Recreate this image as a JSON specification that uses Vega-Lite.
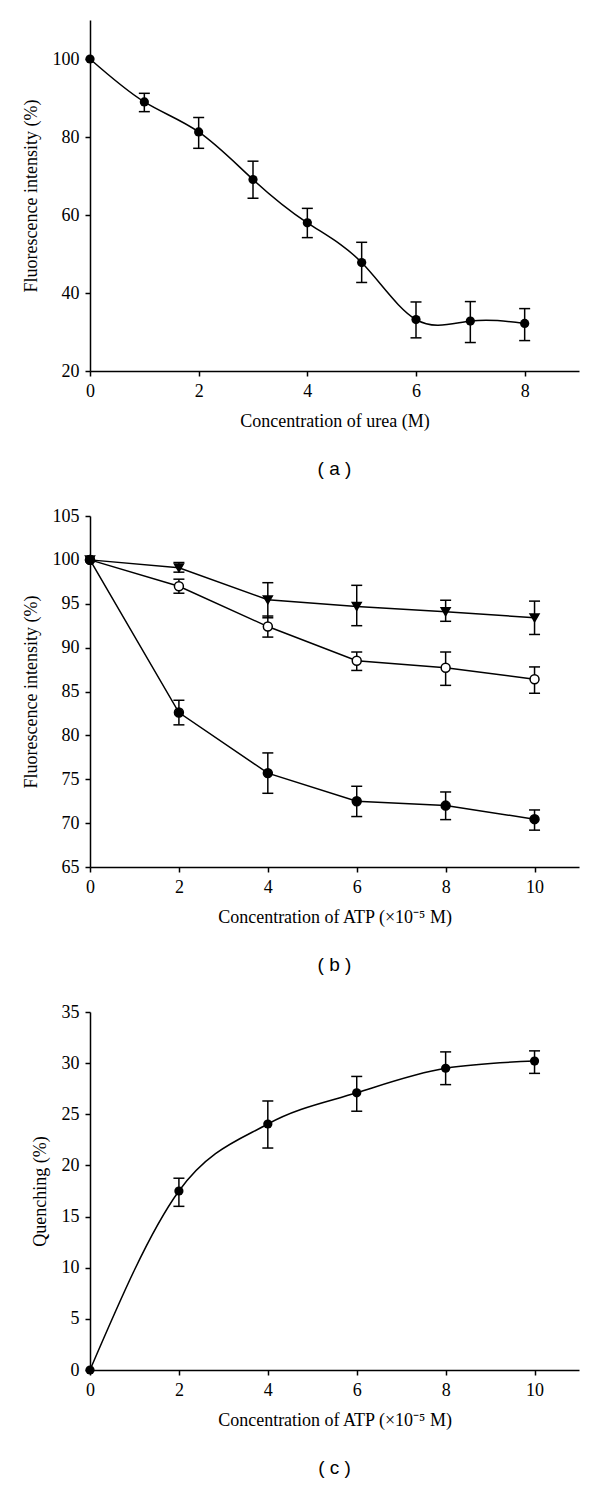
{
  "$schema": "https://vega.github.io/schema/vega-lite/v6.json",
  "background": "white",
  "padding": {"left": 22, "top": 20, "right": 18, "bottom": 10},
  "bounds": "flush",
  "spacing": 145,
  "datasets": {
    "a": [
      {"x": 0, "y": 100, "lo": null, "hi": null},
      {"x": 1, "y": 89.0, "lo": 86.5, "hi": 91.2},
      {"x": 2, "y": 81.3, "lo": 77.1, "hi": 85.0},
      {"x": 3, "y": 69.1, "lo": 64.3, "hi": 73.8},
      {"x": 4, "y": 58.0, "lo": 54.2, "hi": 61.7},
      {"x": 5, "y": 47.8, "lo": 42.7, "hi": 53.0},
      {"x": 6, "y": 33.2, "lo": 28.5, "hi": 37.7},
      {"x": 7, "y": 32.8, "lo": 27.3, "hi": 37.8},
      {"x": 8, "y": 32.2, "lo": 27.8, "hi": 36.0}
    ],
    "b": [
      {"s": "tri", "x": 0, "y": 100, "lo": null, "hi": null},
      {"s": "tri", "x": 2, "y": 99.1, "lo": 98.6, "hi": 99.7},
      {"s": "tri", "x": 4, "y": 95.45, "lo": 93.4, "hi": 97.4},
      {"s": "tri", "x": 6, "y": 94.7, "lo": 92.5, "hi": 97.1},
      {"s": "tri", "x": 8, "y": 94.1, "lo": 93.0, "hi": 95.4},
      {"s": "tri", "x": 10, "y": 93.4, "lo": 91.5, "hi": 95.3},
      {"s": "open", "x": 0, "y": 100, "lo": null, "hi": null},
      {"s": "open", "x": 2, "y": 97.0, "lo": 96.2, "hi": 97.8},
      {"s": "open", "x": 4, "y": 92.4, "lo": 91.2, "hi": 93.6},
      {"s": "open", "x": 6, "y": 88.5, "lo": 87.4, "hi": 89.5},
      {"s": "open", "x": 8, "y": 87.7, "lo": 85.7, "hi": 89.5},
      {"s": "open", "x": 10, "y": 86.4, "lo": 84.8, "hi": 87.8},
      {"s": "filled", "x": 0, "y": 100, "lo": null, "hi": null},
      {"s": "filled", "x": 2, "y": 82.6, "lo": 81.2, "hi": 84.0},
      {"s": "filled", "x": 4, "y": 75.7, "lo": 73.4, "hi": 78.0},
      {"s": "filled", "x": 6, "y": 72.5, "lo": 70.75, "hi": 74.2},
      {"s": "filled", "x": 8, "y": 72.0, "lo": 70.4, "hi": 73.55},
      {"s": "filled", "x": 10, "y": 70.45, "lo": 69.2, "hi": 71.5}
    ],
    "c": [
      {"x": 0, "y": 0, "lo": null, "hi": null},
      {"x": 2, "y": 17.5, "lo": 16.0, "hi": 18.75},
      {"x": 4, "y": 24.05, "lo": 21.7, "hi": 26.3},
      {"x": 6, "y": 27.1, "lo": 25.3, "hi": 28.7},
      {"x": 8, "y": 29.5, "lo": 27.9, "hi": 31.1},
      {"x": 10, "y": 30.2, "lo": 29.0, "hi": 31.2}
    ]
  },
  "config": {
    "view": {"stroke": null},
    "axis": {
      "domainColor": "black", "domainWidth": 1.5,
      "tickColor": "black", "tickWidth": 1.5, "tickSize": 5,
      "labelFont": "Liberation Serif", "labelFontSize": 18, "labelColor": "black",
      "titleFont": "Liberation Serif", "titleFontSize": 18, "titleFontWeight": "normal", "titleColor": "black",
      "grid": false, "labelPadding": 6, "titlePadding": 12, "labelFlush": false, "labelOverlap": false
    },
    "axisX": {"titlePadding": 12},
    "title": {"font": "Liberation Sans", "fontSize": 19, "fontWeight": "normal", "color": "black", "orient": "bottom", "anchor": "middle", "offset": 30}
  },
  "vconcat": [
    {
      "width": 489, "height": 351,
      "title": {"text": "( a )"},
      "data": {"name": "a"},
      "encoding": {
        "x": {"field": "x", "type": "quantitative", "scale": {"domain": [0, 9], "nice": false}, "axis": {"values": [0, 2, 4, 6, 8]}, "title": "Concentration of urea (M)"}
      },
      "layer": [
        {"mark": {"type": "line", "interpolate": "natural", "color": "black", "strokeWidth": 1.5},
         "encoding": {"y": {"field": "y", "type": "quantitative", "scale": {"domain": [20, 110], "nice": false}, "axis": {"values": [20, 40, 60, 80, 100]}, "title": "Fluorescence intensity (%)"}}},
        {"mark": {"type": "rule", "color": "black", "strokeWidth": 1.5},
         "encoding": {"y": {"field": "lo", "type": "quantitative", "title": "Fluorescence intensity (%)"}, "y2": {"field": "hi"}}},
        {"mark": {"type": "tick", "orient": "horizontal", "size": 11, "thickness": 1.5, "color": "black", "opacity": 1},
         "encoding": {"y": {"field": "lo", "type": "quantitative", "title": "Fluorescence intensity (%)"}}},
        {"mark": {"type": "tick", "orient": "horizontal", "size": 11, "thickness": 1.5, "color": "black", "opacity": 1},
         "encoding": {"y": {"field": "hi", "type": "quantitative", "title": "Fluorescence intensity (%)"}}},
        {"mark": {"type": "point", "filled": true, "shape": "circle", "size": 85, "color": "black", "opacity": 1},
         "encoding": {"y": {"field": "y", "type": "quantitative", "title": "Fluorescence intensity (%)"}}}
      ]
    },
    {
      "width": 489, "height": 351,
      "title": {"text": "( b )"},
      "data": {"name": "b"},
      "encoding": {
        "x": {"field": "x", "type": "quantitative", "scale": {"domain": [0, 11], "nice": false}, "axis": {"values": [0, 2, 4, 6, 8, 10]}, "title": "Concentration of ATP (×10⁻⁵ M)"}
      },
      "layer": [
        {"mark": {"type": "line", "color": "black", "strokeWidth": 1.5},
         "encoding": {"detail": {"field": "s"}, "y": {"field": "y", "type": "quantitative", "scale": {"domain": [65, 105], "nice": false}, "axis": {"values": [65, 70, 75, 80, 85, 90, 95, 100, 105]}, "title": "Fluorescence intensity (%)"}}},
        {"mark": {"type": "rule", "color": "black", "strokeWidth": 1.5},
         "encoding": {"y": {"field": "lo", "type": "quantitative", "title": "Fluorescence intensity (%)"}, "y2": {"field": "hi"}}},
        {"mark": {"type": "tick", "orient": "horizontal", "size": 11, "thickness": 1.5, "color": "black", "opacity": 1},
         "encoding": {"y": {"field": "lo", "type": "quantitative", "title": "Fluorescence intensity (%)"}}},
        {"mark": {"type": "tick", "orient": "horizontal", "size": 11, "thickness": 1.5, "color": "black", "opacity": 1},
         "encoding": {"y": {"field": "hi", "type": "quantitative", "title": "Fluorescence intensity (%)"}}},
        {"mark": {"type": "point", "filled": true, "size": 80, "stroke": "black", "strokeWidth": 1.5, "opacity": 1},
         "encoding": {
           "y": {"field": "y", "type": "quantitative", "title": "Fluorescence intensity (%)"},
           "shape": {"field": "s", "type": "nominal", "scale": {"domain": ["tri", "open", "filled"], "range": ["triangle-down", "circle", "circle"]}, "legend": null},
           "fill": {"field": "s", "type": "nominal", "scale": {"domain": ["tri", "open", "filled"], "range": ["black", "white", "black"]}, "legend": null}
         }}
      ]
    },
    {
      "width": 489, "height": 358,
      "title": {"text": "( c )"},
      "data": {"name": "c"},
      "encoding": {
        "x": {"field": "x", "type": "quantitative", "scale": {"domain": [0, 11], "nice": false}, "axis": {"values": [0, 2, 4, 6, 8, 10]}, "title": "Concentration of ATP (×10⁻⁵ M)"}
      },
      "layer": [
        {"mark": {"type": "line", "interpolate": "monotone", "color": "black", "strokeWidth": 1.5},
         "encoding": {"y": {"field": "y", "type": "quantitative", "scale": {"domain": [0, 35], "nice": false}, "axis": {"values": [0, 5, 10, 15, 20, 25, 30, 35]}, "title": "Quenching (%)"}}},
        {"mark": {"type": "rule", "color": "black", "strokeWidth": 1.5},
         "encoding": {"y": {"field": "lo", "type": "quantitative", "title": "Quenching (%)"}, "y2": {"field": "hi"}}},
        {"mark": {"type": "tick", "orient": "horizontal", "size": 11, "thickness": 1.5, "color": "black", "opacity": 1},
         "encoding": {"y": {"field": "lo", "type": "quantitative", "title": "Quenching (%)"}}},
        {"mark": {"type": "tick", "orient": "horizontal", "size": 11, "thickness": 1.5, "color": "black", "opacity": 1},
         "encoding": {"y": {"field": "hi", "type": "quantitative", "title": "Quenching (%)"}}},
        {"mark": {"type": "point", "filled": true, "shape": "circle", "size": 85, "color": "black", "opacity": 1},
         "encoding": {"y": {"field": "y", "type": "quantitative", "title": "Quenching (%)"}}}
      ]
    }
  ]
}
